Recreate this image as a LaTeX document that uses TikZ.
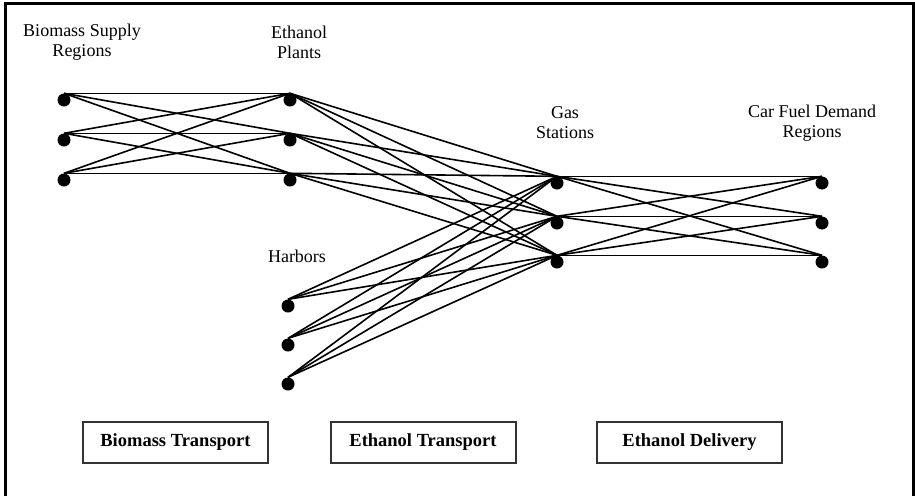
\documentclass[tikz,border=0pt]{standalone}
\usepackage{fontspec}
\setmainfont{Liberation Serif}
\usepackage{tikz}
\usetikzlibrary{positioning}
\tikzset{
  dot/.style={circle, fill=black, inner sep=0pt, minimum size=13pt},
  lbl/.style={align=center, font=\fontsize{18}{20}\selectfont},
  stagebox/.style={draw=black!80, line width=2pt, minimum width=185pt, minimum height=41pt, font=\fontsize{18.5}{20}\selectfont\bfseries},
  link/.style={line width=1.6pt, black},
  frame/.style={line width=3pt, black},
}
\begin{document}
\begin{tikzpicture}[x=1pt, y=-1pt]
  \useasboundingbox (0,0) rectangle (915,496);
  \draw[frame] (5,496) -- (5,3) -- (913,3) -- (913,496);
  % columns of dots
  \foreach \i/\y in {1/100, 2/140, 3/180} {
    \node[dot] (bio\i) at (64,\y) {};
    \node[dot] (plant\i) at (290,\y) {};
  }
  \foreach \i/\y in {1/183, 2/223, 3/262} {
    \node[dot] (gas\i) at (557,\y) {};
    \node[dot] (dem\i) at (822,\y) {};
  }
  \foreach \i/\y in {1/306, 2/345, 3/384}
    \node[dot] (harb\i) at (288,\y) {};
  % labels
  \node[lbl] (biolbl) at (82,42) {Biomass Supply\\Regions};
  \node[lbl] (plantlbl) at (299,42) {Ethanol\\Plants};
  \node[lbl] (gaslbl) at (565,123) {Gas\\Stations};
  \node[lbl] (demlbl) at (812,123) {Car Fuel Demand\\Regions};
  \node[lbl] (harblbl) at (297,256) {Harbors};
  % links
  \foreach \a in {1,2,3} {
    \foreach \b in {1,2,3} {
      \draw[link] (bio\a.north) -- (plant\b.north);
      \draw[link] (plant\a.north) -- (gas\b.north);
      \draw[link] (harb\a.north) -- (gas\b.north);
      \draw[link] (gas\a.north) -- (dem\b.north);
    }
  }
  % stages
  \node[stagebox] (biotr) at (175.5,442.5) {Biomass Transport};
  \node[stagebox] (ethtr) at (423,442.5) {Ethanol Transport};
  \node[stagebox] (ethdel) at (689.5,442.5) {Ethanol Delivery};
\end{tikzpicture}
\end{document}
